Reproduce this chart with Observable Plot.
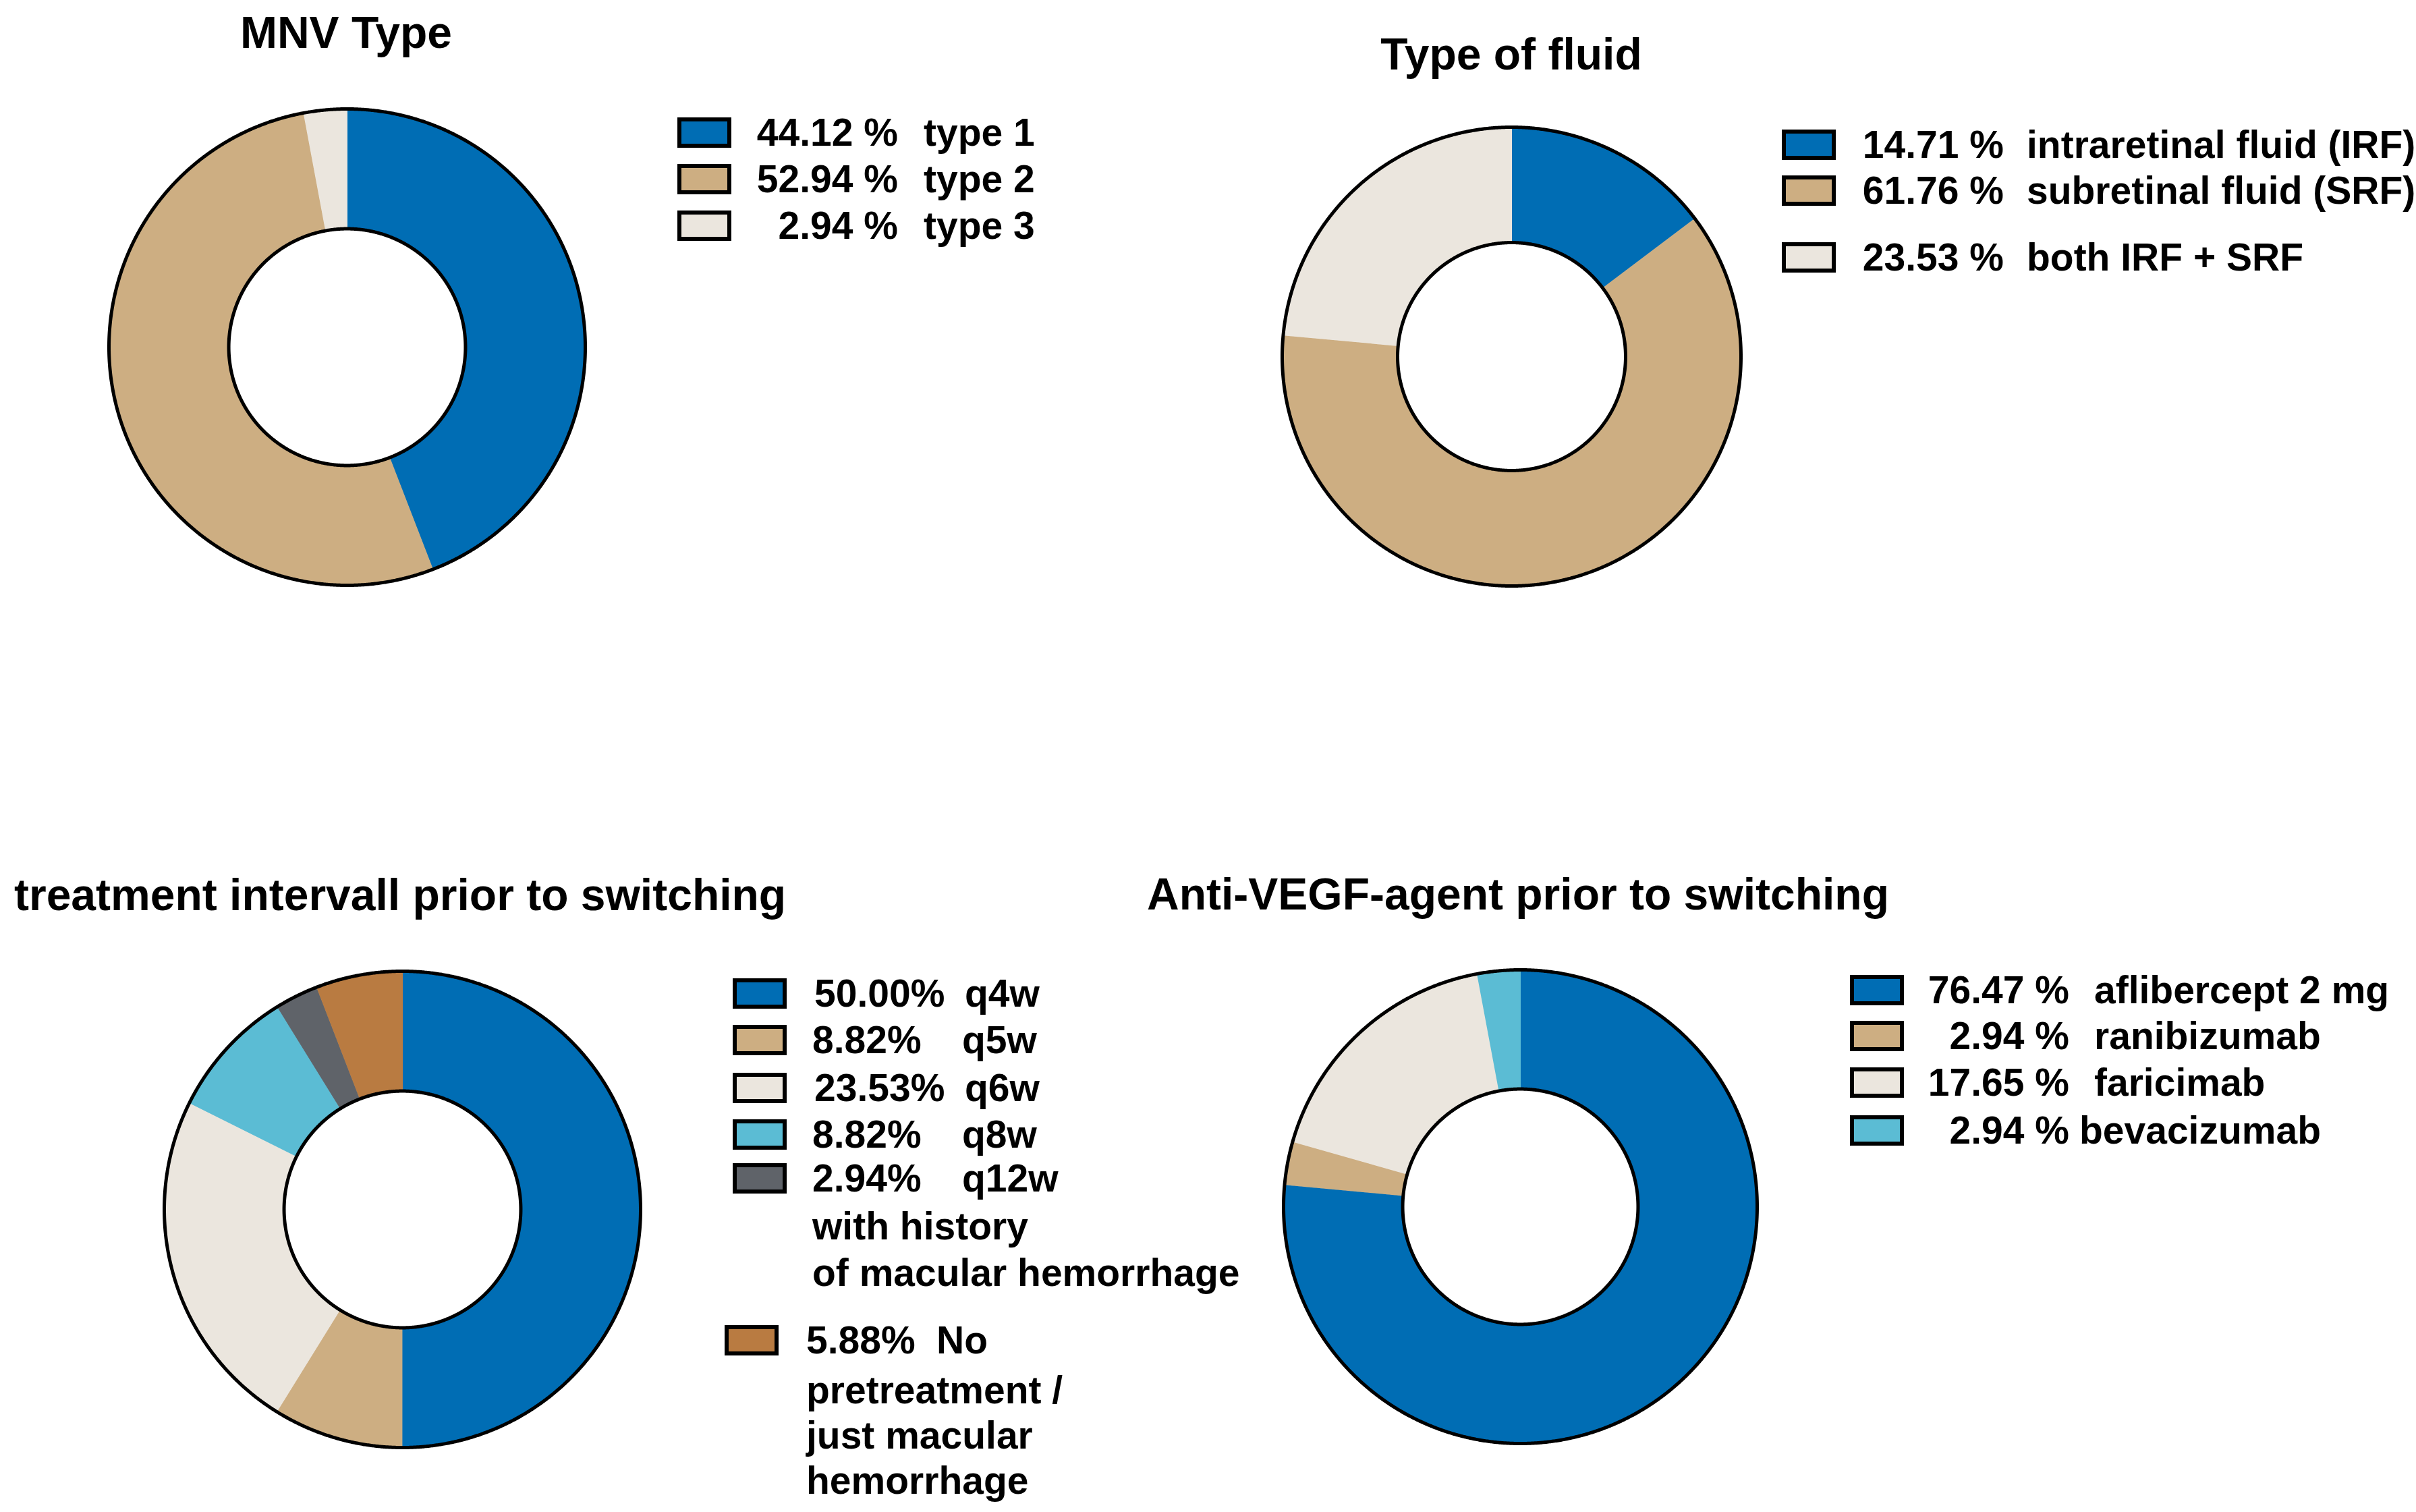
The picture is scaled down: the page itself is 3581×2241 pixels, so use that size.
<!DOCTYPE html>
<html>
<head>
<meta charset="utf-8">
<script src="https://cdn.jsdelivr.net/npm/d3@7"></script>
<script src="https://cdn.jsdelivr.net/npm/@observablehq/plot@0.6"></script>
<style>
  html, body { margin: 0; padding: 0; background: #fff; }
  #fig { position: relative; width: 3581px; height: 2241px; overflow: hidden; background: #fff;
         font-family: "Liberation Sans", Arial, Helvetica, sans-serif; font-weight: bold; color: #000; }
  .t { position: absolute; white-space: pre; }
  .sw { position: absolute; box-sizing: border-box; border: 6px solid #000; }
</style>
</head>
<body>
<div id="fig"></div>
<script>
// ---------------- data ----------------
const mnvTitle = "MNV Type";
const mnvLabels = ["type 1", "type 2", "type 3"];
const mnvValues = [44.12, 52.94, 2.94];

const fluidTitle = "Type of fluid";
const fluidLabels = ["intraretinal fluid (IRF)", "subretinal fluid (SRF)", "both IRF + SRF"];
const fluidValues = [14.71, 61.76, 23.53];

const intervalTitle = "treatment intervall prior to switching";
const intervalLabelLines = [
  ["q4w"], ["q5w"], ["q6w"], ["q8w"],
  ["q12w", "with history", "of macular hemorrhage"],
  ["No", "pretreatment /", "just macular", "hemorrhage"]
];
const intervalValues = [50.00, 8.82, 23.53, 8.82, 2.94, 5.88];

const agentTitle = "Anti-VEGF-agent prior to switching";
const agentLabels = ["aflibercept 2 mg", "ranibizumab", "faricimab", "bevacizumab"];
const agentValues = [76.47, 2.94, 17.65, 2.94];

// ---------------- styles ----------------
const BLUE = "#006db4", TAN = "#cdae82", LIGHT = "#ebe6de", CYAN = "#5bbcd4", GREY = "#5f6369", BROWN = "#b97b41";
const TITLE_SIZE = 66, LEG_SIZE = 57, INNER = 0.497;

const fig = document.getElementById("fig");

function text(str, x, y, size, anchor = "start") {
  const d = document.createElement("div");
  d.className = "t";
  const lh = Math.round(size * 1.12);
  d.style.fontSize = size + "px";
  d.style.lineHeight = lh + "px";
  d.style.top = (y - lh / 2) + "px";
  if (anchor === "start") { d.style.left = x + "px"; }
  else if (anchor === "end") { d.style.left = (x - 3000) + "px"; d.style.width = "3000px"; d.style.textAlign = "right"; }
  else { d.style.left = (x - 1500) + "px"; d.style.width = "3000px"; d.style.textAlign = "center"; }
  d.textContent = str;
  fig.appendChild(d);
}

function swatch(x, y, color) {
  const d = document.createElement("div");
  d.className = "sw";
  d.style.left = x + "px";
  d.style.top = (y - 22.5) + "px";
  d.style.width = "80px";
  d.style.height = "45px";
  d.style.background = color;
  fig.appendChild(d);
}

function donut(values, labels, colors, cx, cy, R) {
  const size = Math.round(2 * R + 40);
  const k = size / (2 * R);
  const arcs = d3.pie().sort(null).value(d => d)(values);
  const slices = [];
  arcs.forEach((a, i) => {
    const n = Math.max(6, Math.ceil((a.endAngle - a.startAngle) / 0.005));
    for (let j = 0; j <= n; j++) {
      const t = a.startAngle + (a.endAngle - a.startAngle) * j / n;
      slices.push({key: labels[i], x: Math.sin(t), y: Math.cos(t)});
    }
    for (let j = n; j >= 0; j--) {
      const t = a.startAngle + (a.endAngle - a.startAngle) * j / n;
      slices.push({key: labels[i], x: INNER * Math.sin(t), y: INNER * Math.cos(t)});
    }
  });
  const rings = [];
  for (const rr of [1, INNER]) {
    for (let j = 0; j <= 1440; j++) {
      const t = 2 * Math.PI * j / 1440;
      rings.push({ring: rr, x: rr * Math.sin(t), y: rr * Math.cos(t)});
    }
  }
  const svg = Plot.plot({
    width: size, height: size, margin: 0,
    style: {background: "transparent", overflow: "visible"},
    x: {domain: [-k, k], axis: null},
    y: {domain: [-k, k], axis: null},
    color: {domain: labels, range: colors},
    marks: [
      Plot.line(slices, {x: "x", y: "y", z: "key", fill: "key", stroke: "key", strokeWidth: 1, curve: "linear"}),
      Plot.line(rings, {x: "x", y: "y", z: "ring", stroke: "#000", strokeWidth: 5, curve: "linear"})
    ]
  });
  svg.style.position = "absolute";
  svg.style.left = (cx - size / 2) + "px";
  svg.style.top = (cy - size / 2) + "px";
  fig.appendChild(svg);
}

const fmtSp = v => d3.format(".2f")(v) + " %";
const fmtNo = v => d3.format(".2f")(v) + "%";

// ---------- Panel 1: MNV Type ----------
{
  const colors = [BLUE, TAN, LIGHT];
  donut(mnvValues, mnvLabels, colors, 514, 514, 353);
  text(mnvTitle, 513, 48, TITLE_SIZE, "middle");
  const rows = [196, 265, 334];
  mnvLabels.forEach((lab, i) => {
    swatch(1004, rows[i], colors[i]);
    text(fmtSp(mnvValues[i]), 1331, rows[i], LEG_SIZE, "end");
    text(lab, 1369, rows[i], LEG_SIZE);
  });
}

// ---------- Panel 2: Type of fluid ----------
{
  const colors = [BLUE, TAN, LIGHT];
  donut(fluidValues, fluidLabels, colors, 2240, 528, 340);
  text(fluidTitle, 2240, 80, TITLE_SIZE, "middle");
  const rows = [214, 282, 381];
  fluidLabels.forEach((lab, i) => {
    swatch(2641, rows[i], colors[i]);
    text(fmtSp(fluidValues[i]), 2970, rows[i], LEG_SIZE, "end");
    text(lab, 3004, rows[i], LEG_SIZE);
  });
}

// ---------- Panel 3: treatment interval ----------
{
  const colors = [BLUE, TAN, LIGHT, CYAN, GREY, BROWN];
  const labels = intervalLabelLines.map(l => l.join(" "));
  donut(intervalValues, labels, colors, 596, 1792, 353);
  text(intervalTitle, 21, 1326, TITLE_SIZE);
  const layout = [
    {y: 1472, sw: 1086, num: 1207, lab: 1430, cont: []},
    {y: 1541, sw: 1086, num: 1204, lab: 1426, cont: []},
    {y: 1612, sw: 1086, num: 1207, lab: 1430, cont: []},
    {y: 1681, sw: 1086, num: 1204, lab: 1426, cont: []},
    {y: 1746, sw: 1086, num: 1204, lab: 1426, cont: [1817, 1886]},
    {y: 1986, sw: 1074, num: 1195, lab: 1388, cont: [2060, 2127, 2194]}
  ];
  intervalLabelLines.forEach((lines, i) => {
    const L = layout[i];
    swatch(L.sw, L.y, colors[i]);
    text(fmtNo(intervalValues[i]), L.num, L.y, LEG_SIZE);
    text(lines[0], L.lab, L.y, LEG_SIZE);
    lines.slice(1).forEach((ln, j) => text(ln, L.num, L.cont[j], LEG_SIZE));
  });
}

// ---------- Panel 4: Anti-VEGF agent ----------
{
  const colors = [BLUE, TAN, LIGHT, CYAN];
  donut(agentValues, agentLabels, colors, 2253, 1788, 351);
  text(agentTitle, 1700, 1325, TITLE_SIZE);
  const rows = [1467, 1535, 1604, 1675];
  const labX = [3104, 3104, 3104, 3082];
  agentLabels.forEach((lab, i) => {
    swatch(2742, rows[i], colors[i]);
    text(fmtSp(agentValues[i]), 3067, rows[i], LEG_SIZE, "end");
    text(lab, labX[i], rows[i], LEG_SIZE);
  });
}
</script>
</body>
</html>
